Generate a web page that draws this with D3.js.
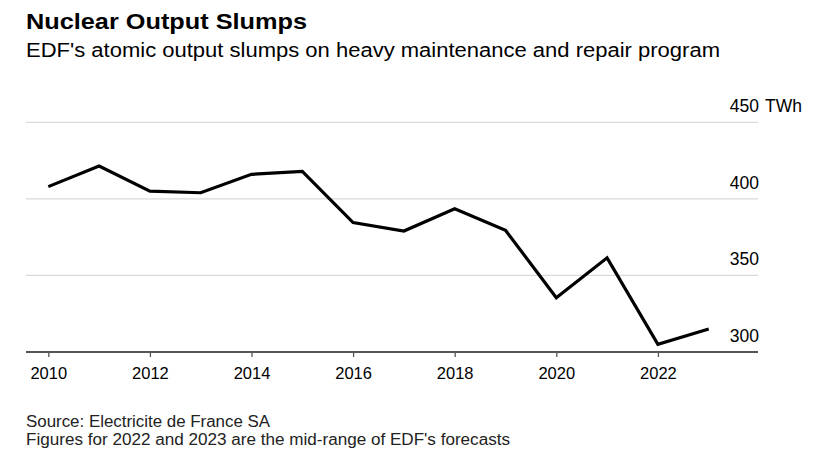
<!DOCTYPE html>
<html>
<head>
<meta charset="utf-8">
<script src="https://cdn.jsdelivr.net/npm/d3@7"></script>
<style>
  body { margin: 0; background: #fff; }
  svg { font-family: "Liberation Sans", Arial, sans-serif; }
</style>
</head>
<body>
<div id="chart"></div>
<script>
const years = [2010, 2011, 2012, 2013, 2014, 2015, 2016, 2017, 2018, 2019, 2020, 2021, 2022, 2023];
const output = [408, 421.5, 405, 404, 416, 418, 384.5, 379, 393.5, 379.5, 335.5, 361.5, 305, 315];
const yTicks = [300, 350, 400, 450];
const xTicks = [2010, 2012, 2014, 2016, 2018, 2020, 2022];
const title = "Nuclear Output Slumps";
const subtitle = "EDF's atomic output slumps on heavy maintenance and repair program";
const notes = ["Source: Electricite de France SA", "Figures for 2022 and 2023 are the mid-range of EDF's forecasts"];

const W = 820, H = 459;
const plot = {left: 26, right: 758, top: 122.3, bottom: 352};

const svg = d3.select("#chart").append("svg")
    .attr("width", W)
    .attr("height", H);

// titles (widths stretched to match the original typeface)
svg.append("text")
    .attr("x", 26).attr("y", 28.5)
    .attr("textLength", 281)
    .attr("lengthAdjust", "spacingAndGlyphs")
    .style("font-size", "22px").style("font-weight", "bold")
    .style("fill", "#000")
    .text(title);
svg.append("text")
    .attr("x", 26).attr("y", 57)
    .attr("textLength", 694)
    .attr("lengthAdjust", "spacingAndGlyphs")
    .style("font-size", "20px")
    .style("fill", "#000")
    .text(subtitle);

const x = d3.scaleLinear()
    .domain([2010, 2023])
    .range([48.3, 708.7]);

const y = d3.scaleLinear()
    .domain([300, 450])
    .range([plot.bottom, plot.top]);

// gridlines (except bottom, that one is the axis)
svg.append("g")
    .selectAll("line")
    .data(yTicks.filter(d => d > 300))
    .enter()
    .append("line")
    .attr("x1", plot.left).attr("x2", plot.right)
    .attr("y1", d => y(d)).attr("y2", d => y(d))
    .style("stroke", "#d9d9d9")
    .style("stroke-width", 1.3);

// y labels, sitting above the gridline
svg.append("g")
    .selectAll("text")
    .data(yTicks)
    .enter()
    .append("text")
    .attr("x", plot.right + 1)
    .attr("y", d => y(d) - 10)
    .attr("text-anchor", "end")
    .style("font-size", "17.5px")
    .style("fill", "#000")
    .text(d => d);
svg.append("text")
    .attr("x", plot.right + 7)
    .attr("y", y(450) - 10)
    .style("font-size", "17.5px")
    .style("fill", "#000")
    .text("TWh");

// x axis
const xAxis = d3.axisBottom(x)
    .tickValues(xTicks)
    .tickFormat(d3.format("d"))
    .tickSize(5)
    .tickPadding(10);
const gx = svg.append("g")
    .attr("transform", "translate(0," + plot.bottom + ")")
    .call(xAxis);
gx.select(".domain").remove();
gx.selectAll(".tick line").style("stroke", "#555").style("stroke-width", 1.3);
gx.selectAll(".tick text")
    .style("font-family", "Liberation Sans, Arial, sans-serif")
    .style("font-size", "16.5px")
    .style("fill", "#000");
svg.append("line")
    .attr("x1", plot.left).attr("x2", plot.right)
    .attr("y1", plot.bottom).attr("y2", plot.bottom)
    .style("stroke", "#555")
    .style("stroke-width", 1.8);

// line
const line = d3.line()
    .x((d, i) => x(years[i]))
    .y(d => y(d));
svg.append("path")
    .datum(output)
    .attr("d", line)
    .style("fill", "none")
    .style("stroke", "#000")
    .style("stroke-width", 3.2)
    .style("stroke-linejoin", "miter");

// footer
const noteWidths = [244, 484];
svg.append("g")
    .selectAll("text")
    .data(notes)
    .enter()
    .append("text")
    .attr("x", 26)
    .attr("y", (d, i) => 427 + i * 18)
    .attr("textLength", (d, i) => noteWidths[i])
    .attr("lengthAdjust", "spacingAndGlyphs")
    .style("font-size", "16px")
    .style("fill", "#222")
    .text(d => d);
</script>
</body>
</html>
